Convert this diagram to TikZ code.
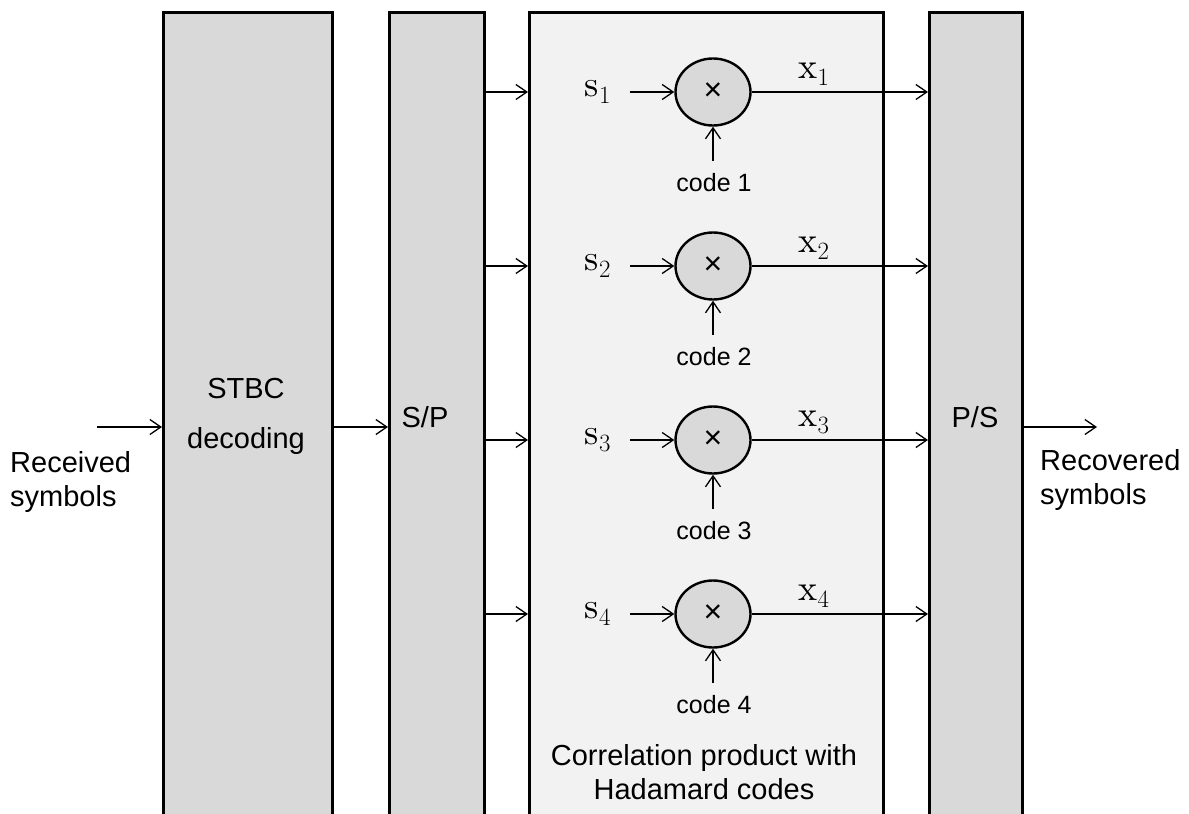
\documentclass[tikz,border=0pt]{standalone}
\usepackage{fontspec}
\setmainfont{Liberation Sans}
\newfontfamily\lmr{lmroman10-regular.otf}
\usetikzlibrary{arrows.meta,shapes.geometric}

\definecolor{blockgray}{HTML}{D9D9D9}
\definecolor{panelgray}{HTML}{F2F2F2}

\tikzset{
  block/.style={draw=black, line width=2.6pt, fill=blockgray, rectangle,
    anchor=north west, inner sep=0pt},
  panel/.style={block, fill=panelgray},
  arr/.style={line width=1.3pt, -{Straight Barb[length=11pt,width=15pt,line width=1.3pt]}},
  mult/.style={draw=black, line width=2.4pt, fill=blockgray, ellipse,
    minimum width=75pt, minimum height=67pt, inner sep=0pt},
  lbl/.style={font=\fontsize{29pt}{34pt}\selectfont, inner sep=0pt},
  codelbl/.style={font=\fontsize{25pt}{30pt}\selectfont, inner sep=0pt},
  sym/.style={font=\fontsize{36pt}{40pt}\selectfont\lmr, inner sep=0pt},
}

\begin{document}
\begin{tikzpicture}[x=1pt,y=-1pt]
  \useasboundingbox (0,0) rectangle (1189,814);
  \clip (0,0) rectangle (1189,814);

  % processing blocks (they run past the lower edge)
  \node[block, minimum width=169pt, minimum height=840pt] (stbc) at (162,11) {};
  \node[block, minimum width=95pt,  minimum height=840pt] (sp)   at (388,11) {};
  \node[panel, minimum width=354pt, minimum height=840pt] (cor)  at (528,11) {};
  \node[block, minimum width=93pt,  minimum height=840pt] (ps)   at (928,11) {};

  % block titles
  \node[lbl] (stbc1) at (246,389) {STBC};
  \node[lbl] (stbc2) at (246,441) {decoding};
  \node[lbl] (sptxt) at (425,417) {S/P};
  \node[lbl] (pstxt) at (975,417) {P/S};
  \node[lbl, align=center] (cortxt) at (704,772)
    {Correlation product with\\Hadamard codes};

  % input and output of the chain
  \coordinate (rin) at (97,427);
  \coordinate (rout) at (1097,427);
  \draw[arr] (rin) -- (rin -| stbc.west);
  \draw[arr] (stbc.east |- rin) -- (sp.west |- rin);
  \draw[arr] (ps.east |- rout) -- (rout);
  \node[lbl, align=left, anchor=west] (rxlbl) at (10,482)
    {Received\\symbols};
  \node[lbl, align=left, anchor=west] (reclbl) at (1040,480)
    {Recovered\\symbols};

  % four correlator branches
  \foreach \k/\yy in {1/92,2/266,3/440,4/614}{
    \node[mult] (m\k) at (713,\yy) {\fontsize{32pt}{32pt}\selectfont ×};
    \coordinate (sin\k) at (630,\yy);
    \node[sym] (s\k) at (598,\yy) {s$_{\k}$};
    \node[sym] (x\k) at (814,\yy-18) {x$_{\k}$};
    \coordinate (cin\k) at ([yshift=-34pt]m\k.south);
    \node[codelbl] (c\k) at (714,\yy+91) {code \k};
    \draw[arr] (sp.east |- m\k) -- (cor.west |- m\k);
    \draw[arr] (sin\k) -- (m\k.west);
    \draw[arr] (cin\k) -- (m\k.south);
    \draw[arr] (m\k.east) -- (ps.west |- m\k);
  }
\end{tikzpicture}
\end{document}
